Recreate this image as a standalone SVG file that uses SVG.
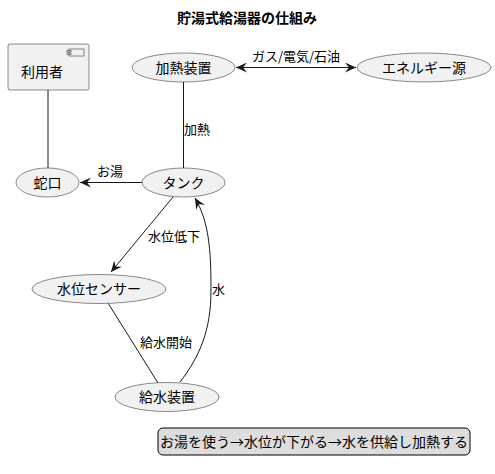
<svg xmlns="http://www.w3.org/2000/svg" width="495" height="474" viewBox="0 0 495 474">
<style>
text{font-family:"Noto Sans CJK JP","Noto Sans",sans-serif;fill:#000}
.n{fill:#F1F1F1;stroke:#181818;stroke-width:0.5}
.lbl{font-size:14px;text-anchor:middle}
.el{font-size:13px}
.c{fill:none;stroke:#181818;stroke-width:1}
</style>
<defs>
<marker id="ah" viewBox="0 0 12 10" refX="11" refY="5" markerWidth="12" markerHeight="10" markerUnits="userSpaceOnUse" orient="auto-start-reverse">
<path d="M0,0 L11,5 L0,10 L4,5 Z" fill="#181818"/>
</marker>
</defs>
<rect width="495" height="474" fill="#fff"/>
<text x="247" y="23" font-size="14" font-weight="bold" text-anchor="middle">貯湯式給湯器の仕組み</text>
<g id="connectors">
<path class="c" d="M48,90 L48,168"/>
<path class="c" d="M236,67.5 L356,67.5" marker-start="url(#ah)" marker-end="url(#ah)"/>
<text class="el" x="296" y="61" text-anchor="middle">ガス/電気/石油</text>
<path class="c" d="M183.5,82 L183.5,168"/>
<text class="el" x="184" y="134">加熱</text>
<path class="c" d="M142,182.5 L80,182.5" marker-end="url(#ah)"/>
<text class="el" x="97" y="176">お湯</text>
<path class="c" d="M173,197 L111,272" marker-end="url(#ah)"/>
<text class="el" x="148" y="241">水位低下</text>
<path class="c" d="M108,303 L158,383"/>
<text class="el" x="140" y="347">給水開始</text>
<path class="c" d="M180,382 C200,356 211,330 211,290 C211,250 209,222 195,198" marker-end="url(#ah)"/>
<text class="el" x="212" y="294">水</text>
</g>
<g id="user">
<rect class="n" x="8" y="44" width="81" height="46" rx="2"/>
<rect x="69" y="49" width="15" height="7" fill="#F1F1F1" stroke="#181818" stroke-width="0.5"/>
<rect x="67" y="50.5" width="4" height="1.5" fill="#F1F1F1" stroke="#181818" stroke-width="0.5"/>
<rect x="67" y="53" width="4" height="1.5" fill="#F1F1F1" stroke="#181818" stroke-width="0.5"/>
<text class="lbl" x="42" y="77">利用者</text>
</g>
<g id="heater">
<ellipse class="n" cx="183.5" cy="67.5" rx="51.5" ry="14.5"/>
<text class="lbl" x="183.5" y="72.5">加熱装置</text>
</g>
<g id="energy">
<ellipse class="n" cx="424" cy="67.5" rx="67" ry="14.5"/>
<text class="lbl" x="424" y="72.5">エネルギー源</text>
</g>
<g id="faucet">
<ellipse class="n" cx="47.5" cy="182.5" rx="31.5" ry="14.5"/>
<text class="lbl" x="47.5" y="187.5">蛇口</text>
</g>
<g id="tank">
<ellipse class="n" cx="183.5" cy="182.5" rx="41.5" ry="14.5"/>
<text class="lbl" x="183.5" y="187.5">タンク</text>
</g>
<g id="sensor">
<ellipse class="n" cx="99" cy="289" rx="67" ry="14.5"/>
<text class="lbl" x="99" y="294">水位センサー</text>
</g>
<g id="supply">
<ellipse class="n" cx="167" cy="397" rx="52" ry="14.5"/>
<text class="lbl" x="167" y="402">給水装置</text>
</g>
<g id="legend">
<rect x="158" y="428" width="312" height="27" rx="5" fill="#DDDDDD" stroke="#000" stroke-width="1"/>
<text class="lbl" x="314" y="446.5">お湯を使う→水位が下がる→水を供給し加熱する</text>
</g>
</svg>
